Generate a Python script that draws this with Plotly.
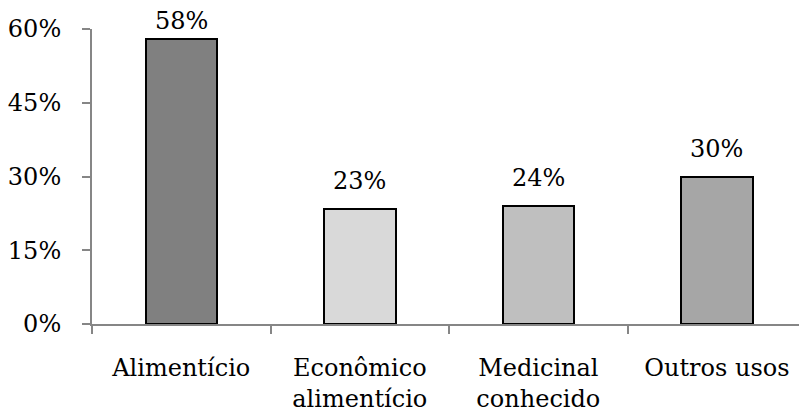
import plotly.graph_objects as go

categories = ["Alimentício", "Econômico<br>alimentício", "Medicinal<br>conhecido", "Outros usos"]
values = [57.9, 23.4, 24.0, 29.9]
bar_colors = ["#808080", "#d9d9d9", "#bfbfbf", "#a6a6a6"]
y_ticks = [0, 15, 30, 45, 60]
y_tick_labels = ["0%", "15%", "30%", "45%", "60%"]

FONT = "DejaVu Serif"
FS = 24

fig = go.Figure()
fig.add_trace(go.Bar(
    x=list(range(len(categories))),
    y=values,
    width=0.40,
    marker=dict(color=bar_colors, line=dict(color="#000000", width=2)),
    showlegend=False,
    hoverinfo="skip",
))

for i, v in enumerate(values):
    fig.add_annotation(
        x=i, y=v, text=f"{round(v)}%", showarrow=False,
        yanchor="bottom", yshift=(12 if v < 50 else 2),
        font=dict(family=FONT, size=FS, color="#000000"),
    )

fig.update_layout(
    width=799, height=415,
    margin=dict(l=92, r=0, t=29, b=91),
    paper_bgcolor="white", plot_bgcolor="white",
    font=dict(family=FONT, size=FS, color="#000000"),
    bargap=0,
)
fig.update_xaxes(
    range=[-0.5, 3.46],
    tickmode="array",
    tickvals=list(range(len(categories))),
    ticktext=categories,
    showline=True, linecolor="#868686", linewidth=2,
    ticks="", showgrid=False, zeroline=False,
    ticklabelstandoff=21,
    automargin=False,
)
fig.update_xaxes(
    minor=dict(tickvals=[-0.5, 0.5, 1.5, 2.5, 3.5], ticks="outside",
               ticklen=8, tickcolor="#868686", tickwidth=2),
)
fig.update_yaxes(
    range=[0, 60],
    tickmode="array",
    tickvals=y_ticks,
    ticktext=y_tick_labels,
    showline=True, linecolor="#868686", linewidth=2,
    ticks="outside", ticklen=8, tickcolor="#868686", tickwidth=2,
    showgrid=False, zeroline=False,
    ticklabelstandoff=16,
    automargin=False,
)

fig.write_html("out.html")
